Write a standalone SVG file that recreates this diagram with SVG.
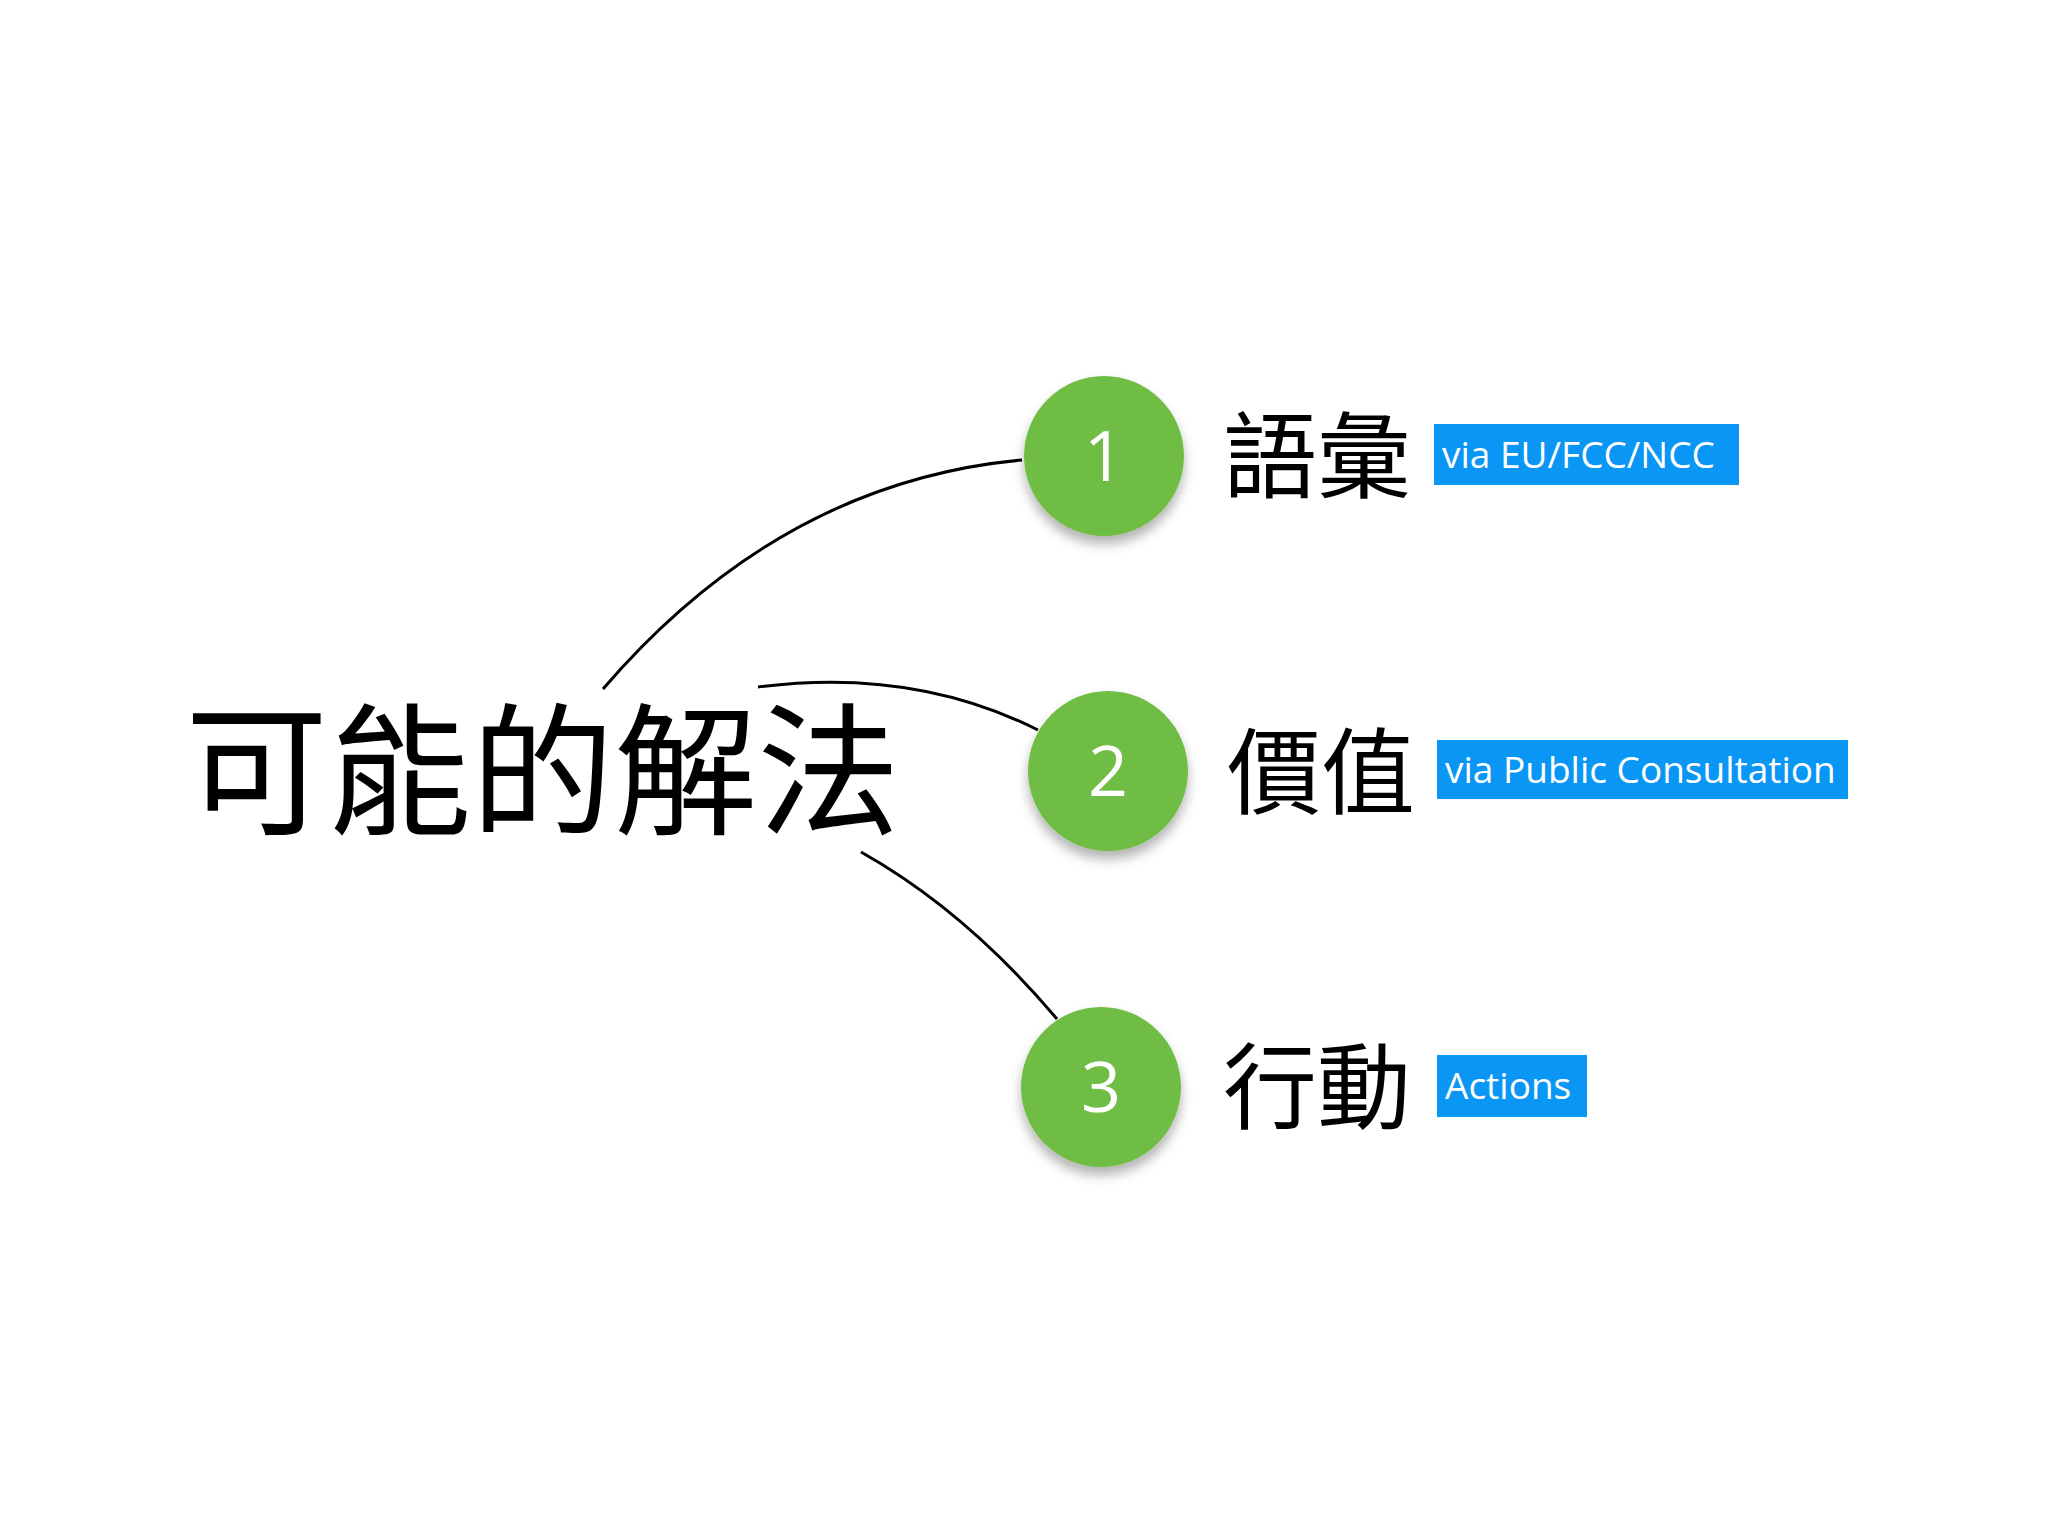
<svg xmlns="http://www.w3.org/2000/svg" width="2048" height="1536" viewBox="0 0 2048 1536">
<defs>
<filter id="sh" x="-30%" y="-30%" width="160%" height="170%"><feDropShadow dx="0" dy="8" stdDeviation="6" flood-color="#000" flood-opacity="0.3"/></filter>
<style>
.c{fill:#6fbd44;filter:url(#sh)}
.n{font-family:"Open Sans","Liberation Sans",sans-serif;font-size:70px;fill:#fff;text-anchor:middle}
.t{font-family:"Noto Sans CJK TC",sans-serif;font-size:94px;fill:#000}
.b{fill:#0a96f5}
.bt{font-family:"Open Sans","Liberation Sans",sans-serif;font-size:37px;fill:#fff}
.e{fill:none;stroke:#000;stroke-width:3}
</style>
</defs>
<rect width="2048" height="1536" fill="#fff"/>
<g transform="translate(-11,-6)">
<g id="connectors">
<path class="e" d="M614,695 Q792,488 1033,466"/>
<path class="e" d="M769,693 Q924,673 1049,736"/>
<path class="e" d="M872,858 Q977,917 1068,1025"/>
</g>
<g id="main"><text x="196" y="830" font-family="Noto Sans CJK TC, sans-serif" font-size="143">可能的解法</text></g>
<g id="n1"><circle class="c" cx="1115" cy="462" r="80"/><text class="n" x="1115" y="487">1</text><text class="t" x="1234" y="497">語彙</text><rect class="b" x="1445" y="430" width="305" height="61"/><text class="bt" x="1453" y="474">via EU/FCC/NCC</text></g>
<g id="n2"><circle class="c" cx="1119" cy="777" r="80"/><text class="n" x="1119" y="802">2</text><text class="t" x="1238" y="813">價值</text><rect class="b" x="1448" y="746" width="411" height="59"/><text class="bt" x="1456" y="789">via Public Consultation</text></g>
<g id="n3"><circle class="c" cx="1112" cy="1093" r="80"/><text class="n" x="1112" y="1118">3</text><text class="t" x="1234" y="1128">行動</text><rect class="b" x="1448" y="1061" width="150" height="62"/><text class="bt" x="1456" y="1105">Actions</text></g>
</g>
</svg>
